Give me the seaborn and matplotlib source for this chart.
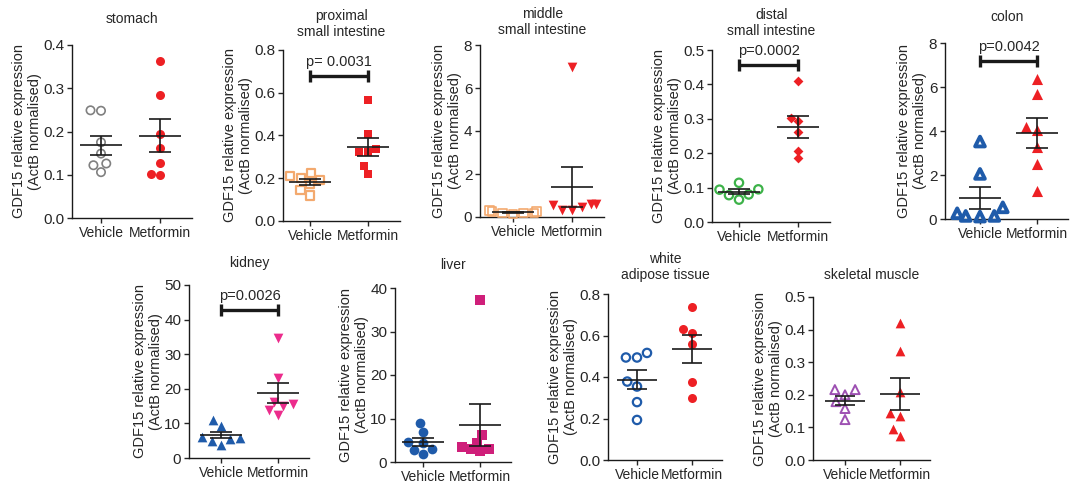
import numpy as np
import pandas as pd
import matplotlib
matplotlib.use("Agg")
import matplotlib.pyplot as plt
import seaborn as sns
from matplotlib.ticker import MultipleLocator, FormatStrFormatter

sns.set_theme(style="ticks")
plt.rcParams["font.family"] = ["Liberation Sans", "DejaVu Sans"]
plt.rcParams["text.color"] = "#262626"
plt.rcParams["axes.labelcolor"] = "#262626"
plt.rcParams["xtick.color"] = "#262626"
plt.rcParams["ytick.color"] = "#262626"

GROUPS = ["Vehicle", "Metformin"]
YLABEL = "GDF15 relative expression\n(ActB normalised)"

# GDF15 relative expression per animal
stomach_veh = [0.248, 0.249, 0.175, 0.149, 0.126, 0.122, 0.106]
stomach_met = [0.362, 0.285, 0.195, 0.161, 0.128, 0.100, 0.102]
prox_veh = [0.201, 0.224, 0.192, 0.211, 0.172, 0.145, 0.120]
prox_met = [0.566, 0.405, 0.337, 0.321, 0.324, 0.257, 0.222]
mid_veh = [0.25, 0.20, 0.15, 0.20, 0.25, 0.30, 0.20]
mid_met = [7.0, 0.62, 0.62, 0.54, 0.45, 0.34, 0.31]
dist_veh = [0.095, 0.114, 0.094, 0.065, 0.080, 0.078]
dist_met = [0.410, 0.301, 0.294, 0.261, 0.186, 0.207]
colon_veh = [3.52, 2.05, 0.53, 0.26, 0.14, 0.14, 0.11]
colon_met = [6.37, 5.68, 4.18, 4.06, 3.29, 2.52, 1.29]
kidney_veh = [11.0, 9.3, 6.2, 5.7, 5.4, 5.0, 3.9]
kidney_met = [34.6, 23.1, 16.3, 15.7, 14.9, 13.8, 12.5]
liver_veh = [9.0, 6.9, 4.5, 4.3, 3.0, 2.7, 1.8]
liver_met = [37.2, 6.28, 4.44, 3.45, 2.91, 2.91, 2.45]
wat_veh = [0.516, 0.494, 0.494, 0.378, 0.354, 0.279, 0.193]
wat_met = [0.737, 0.631, 0.612, 0.560, 0.374, 0.301]
muscle_veh = [0.216, 0.216, 0.200, 0.179, 0.158, 0.124]
muscle_met = [0.420, 0.335, 0.209, 0.143, 0.136, 0.094, 0.073]

titles = ["stomach", "proximal\nsmall intestine", "middle\nsmall intestine",
          "distal\nsmall intestine", "colon", "kidney", "liver",
          "white\nadipose tissue", "skeletal muscle"]
vehicle = [stomach_veh, prox_veh, mid_veh, dist_veh, colon_veh,
           kidney_veh, liver_veh, wat_veh, muscle_veh]
metformin = [stomach_met, prox_met, mid_met, dist_met, colon_met,
             kidney_met, liver_met, wat_met, muscle_met]
y_max = [0.4, 0.8, 8, 0.5, 8, 50, 40, 0.8, 0.5]
y_step = [0.1, 0.2, 2, 0.1, 2, 10, 10, 0.2, 0.1]

# p-values: panel index, label, bracket height
p_panel = [1, 3, 4, 5]
p_text = ["p= 0.0031", "p=0.0002", "p=0.0042", "p=0.0026"]
p_height = [0.68, 0.456, 7.2, 42.8]

RED = "#ED2024"
ORANGE = "#F3A96E"
BLUE = "#1F5BAA"
# (marker, colour, hollow, edge width, size in pt)
veh_style = [("o", "#808080", True, 1.2, 6), ("s", ORANGE, True, 1.6, 6),
             ("s", ORANGE, True, 1.2, 6), ("o", "#3DB249", True, 1.6, 6),
             ("^", BLUE, True, 2.8, 7), ("^", BLUE, False, 0, 7),
             ("o", BLUE, False, 0, 7), ("o", BLUE, True, 1.6, 6),
             ("^", "#9D50B2", True, 1.4, 6.5)]
met_style = [("o", RED, False, 0, 6.5), ("s", RED, False, 0, 6), ("v", RED, False, 0, 7),
             ("D", RED, False, 0, 5), ("^", RED, False, 0, 8), ("v", "#EC2C8C", False, 0, 7),
             ("s", "#CF1F7A", False, 0, 6.5), ("o", RED, False, 0, 6.5), ("^", RED, False, 0, 7)]

# layout in pixels: spine x, Vehicle x, Metformin x, top, bottom, title pad (pt)
W, H = 1071, 483
layout = [(72, 101, 160, 45, 218, 16), (283, 310, 368, 50, 221, 10),
          (480, 513, 572, 45, 217, 8), (712, 739, 798, 50, 222, 11),
          (945, 980, 1037, 43, 219, 16), (189, 221, 278, 285, 458, 13),
          (395, 423, 480, 288, 462, 14), (608, 637, 692, 294, 460, 11),
          (813, 845, 900, 297, 460, 13)]

fig = plt.figure(figsize=(W / 100, H / 100), dpi=100)
axes = []
for i, (L, xv, xm, top, bot, tpad) in enumerate(layout):
    u = xm - xv
    xmin = -(xv - L) / u
    xmax = 1.55
    ax = fig.add_axes([L / W, 1 - bot / H, (xmax - xmin) * u / W, (bot - top) / H])
    axes.append(ax)

    for pos, (g, vals, st) in enumerate(zip(GROUPS, [vehicle[i], metformin[i]],
                                             [veh_style[i], met_style[i]])):
        marker, col, hollow, lw, size = st
        df = pd.DataFrame({"group": [g] * len(vals), "value": vals})
        if hollow:
            sns.swarmplot(data=df, x="group", y="value", order=GROUPS, ax=ax,
                          color=col, facecolors="none", edgecolor=col,
                          linewidth=lw, size=size, marker=marker)
        else:
            sns.swarmplot(data=df, x="group", y="value", order=GROUPS, ax=ax,
                          color=col, edgecolor=col, linewidth=0, size=size, marker=marker)

        # mean +/- SEM
        v = np.asarray(vals)
        m = v.mean()
        se = v.std(ddof=1) / np.sqrt(len(v))
        ax.hlines(m, pos - 0.36, pos + 0.36, color="#1a1a1a", lw=1.2, zorder=5)
        ax.hlines([m - se, m + se], pos - 0.19, pos + 0.19, color="#1a1a1a", lw=1.2, zorder=5)
        ax.vlines(pos, m - se, m + se, color="#1a1a1a", lw=1.2, zorder=5)

    # drop the empty collections seaborn makes for the unused category,
    # let the real points spill over the axes edge
    for coll in list(ax.collections):
        if hasattr(coll, "get_offsets") and len(coll.get_offsets()) == 0:
            coll.remove()
        elif coll.get_zorder() == 3:
            coll.set_clip_on(False)

    ax.set_xlim(xmin, xmax)
    ax.set_ylim(0, y_max[i])
    ax.yaxis.set_major_locator(MultipleLocator(y_step[i]))
    ax.yaxis.set_major_formatter(FormatStrFormatter("%.1f" if y_step[i] < 1 else "%d"))
    ax.set_xlabel("")
    ax.set_ylabel(YLABEL, fontsize=10.5, labelpad=1, linespacing=1.2)
    ax.set_title(titles[i], fontsize=10, pad=tpad, linespacing=1.15)
    ax.tick_params(axis="y", labelsize=11, length=3.5, width=1, pad=2)
    ax.tick_params(axis="x", labelsize=10, length=3.5, width=1, pad=2)
    for s in ["top", "right"]:
        ax.spines[s].set_visible(False)
    for s in ["left", "bottom"]:
        ax.spines[s].set_linewidth(1)
        ax.spines[s].set_color("#1a1a1a")

for idx, txt, yb in zip(p_panel, p_text, p_height):
    ax = axes[idx]
    ax.plot([0, 1], [yb, yb], color="#1a1a1a", lw=2.4, marker="|", ms=9, mew=2.4,
            solid_capstyle="butt", clip_on=False)
    ax.annotate(txt, xy=(0.5, yb), xytext=(0, 7), textcoords="offset points",
                ha="center", va="baseline", fontsize=10.5)

fig.savefig("out.png", dpi=100)
